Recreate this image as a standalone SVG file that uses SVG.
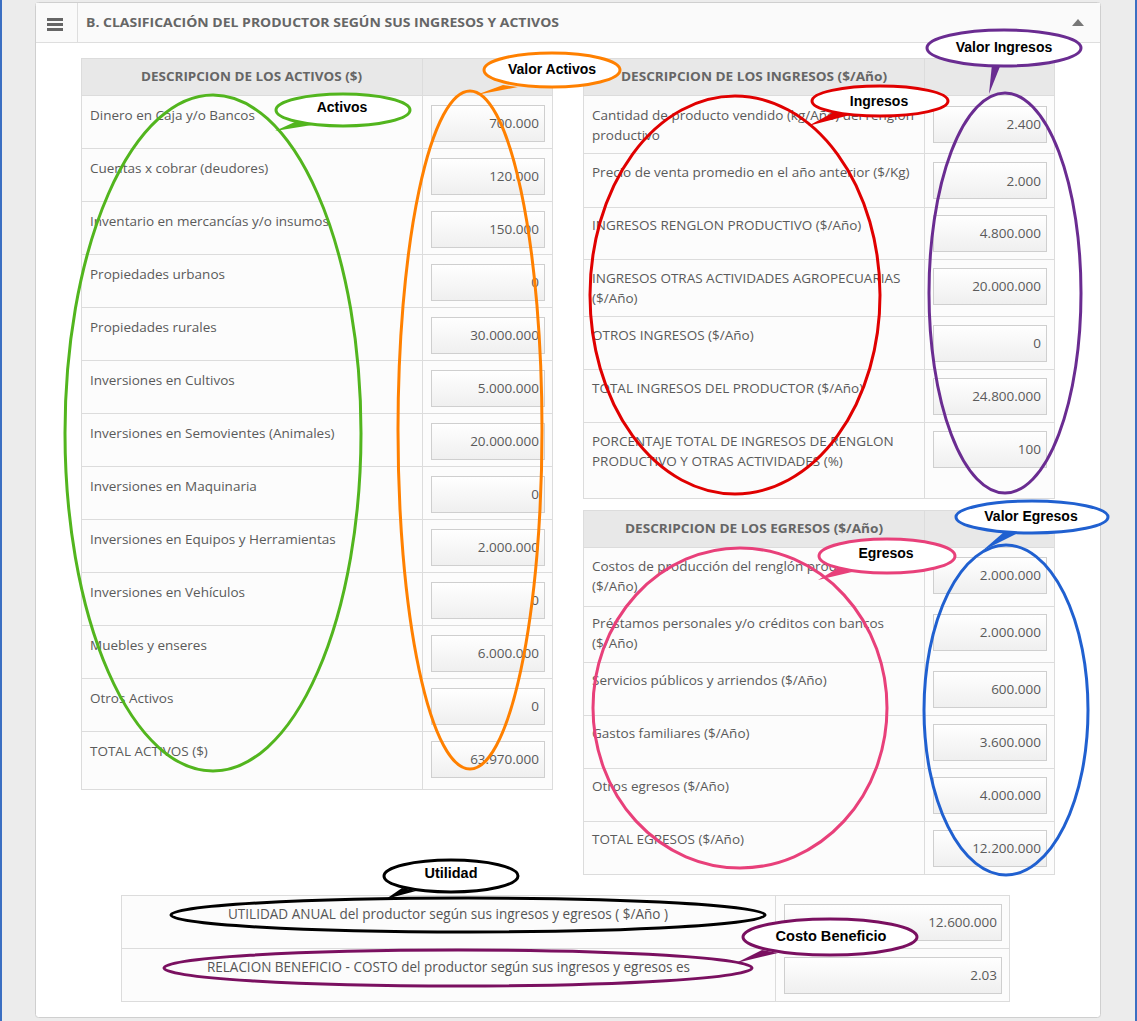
<svg xmlns="http://www.w3.org/2000/svg" width="1137" height="1021" viewBox="0 0 1137 1021">
<defs>
<linearGradient id="inp" x1="0" y1="0" x2="0" y2="1">
<stop offset="0" stop-color="#ffffff"/>
<stop offset="1" stop-color="#efefef"/>
</linearGradient>
<style>
.lbl{font-family:"Open Sans","DejaVu Sans",sans-serif;font-size:13.5px;fill:#5a5a5a}
.val{font-family:"Open Sans","DejaVu Sans",sans-serif;font-size:13.5px;fill:#5a5a5a;text-anchor:end}
.hdr{font-family:"Open Sans","DejaVu Sans",sans-serif;font-size:13px;font-weight:bold;fill:#666}
.cell{fill:#fcfcfc;stroke:#dcdcdc;stroke-width:1}
.head{fill:#e8e8e8;stroke:#dcdcdc;stroke-width:1}
.inp{fill:url(#inp);stroke:#cfcfcf;stroke-width:1}
.big{fill:none;stroke-width:3}
.bub{fill:#fff;stroke-width:3}
.bt{font-family:"Liberation Sans",Arial,sans-serif;font-size:14px;font-weight:bold;fill:#000;text-anchor:middle}
.cond{font-family:"Open Sans","DejaVu Sans",sans-serif;font-size:14px;fill:#555}
</style>
</defs>
<rect x="0" y="0" width="1137" height="1021" fill="#ececec"/>
<rect x="0" y="0" width="2" height="1021" fill="#3b6fc2"/>
<rect x="1135" y="0" width="2" height="1021" fill="#3b6fc2"/>
<g id="panel">
<rect x="35.5" y="2.5" width="1065" height="1015" rx="3" fill="#fff" stroke="#cfcfcf"/>
<rect x="36" y="3" width="1064" height="39" fill="#fafafa"/>
<line x1="36" y1="42.5" x2="1100" y2="42.5" stroke="#dedede"/>
<line x1="77.5" y1="3" x2="77.5" y2="42" stroke="#dedede"/>
<rect x="47" y="18" width="16" height="3" fill="#666"/>
<rect x="47" y="23" width="16" height="3" fill="#666"/>
<rect x="47" y="28" width="16" height="3" fill="#666"/>
<text x="86" y="27" class="hdr" font-size="14" textLength="473" lengthAdjust="spacingAndGlyphs">B. CLASIFICACIÓN DEL PRODUCTOR SEGÚN SUS INGRESOS Y ACTIVOS</text>
<path d="M1072 26 L1084 26 L1078 19 Z" fill="#777"/>
</g>
<g id="tabla-activos">
<rect x="81.5" y="58.5" width="341" height="37" class="head"/>
<rect x="422.5" y="58.5" width="130" height="37" class="head"/>
<text x="141" y="81" class="hdr" textLength="221" lengthAdjust="spacingAndGlyphs">DESCRIPCION DE LOS ACTIVOS ($)</text>
<g>
<rect x="81.5" y="95.5" width="341" height="53" class="cell"/><rect x="422.5" y="95.5" width="130" height="53" class="cell"/>
<rect x="81.5" y="148.5" width="341" height="53" class="cell"/><rect x="422.5" y="148.5" width="130" height="53" class="cell"/>
<rect x="81.5" y="201.5" width="341" height="53" class="cell"/><rect x="422.5" y="201.5" width="130" height="53" class="cell"/>
<rect x="81.5" y="254.5" width="341" height="53" class="cell"/><rect x="422.5" y="254.5" width="130" height="53" class="cell"/>
<rect x="81.5" y="307.5" width="341" height="53" class="cell"/><rect x="422.5" y="307.5" width="130" height="53" class="cell"/>
<rect x="81.5" y="360.5" width="341" height="53" class="cell"/><rect x="422.5" y="360.5" width="130" height="53" class="cell"/>
<rect x="81.5" y="413.5" width="341" height="53" class="cell"/><rect x="422.5" y="413.5" width="130" height="53" class="cell"/>
<rect x="81.5" y="466.5" width="341" height="53" class="cell"/><rect x="422.5" y="466.5" width="130" height="53" class="cell"/>
<rect x="81.5" y="519.5" width="341" height="53" class="cell"/><rect x="422.5" y="519.5" width="130" height="53" class="cell"/>
<rect x="81.5" y="572.5" width="341" height="53" class="cell"/><rect x="422.5" y="572.5" width="130" height="53" class="cell"/>
<rect x="81.5" y="625.5" width="341" height="53" class="cell"/><rect x="422.5" y="625.5" width="130" height="53" class="cell"/>
<rect x="81.5" y="678.5" width="341" height="53" class="cell"/><rect x="422.5" y="678.5" width="130" height="53" class="cell"/>
<rect x="81.5" y="731.5" width="341" height="58" class="cell"/><rect x="422.5" y="731.5" width="130" height="58" class="cell"/>
</g>
<g>
<text x="90" y="120" class="lbl">Dinero en Caja y/o Bancos</text>
<text x="90" y="173" class="lbl">Cuentas x cobrar (deudores)</text>
<text x="90" y="226" class="lbl">Inventario en mercancías y/o insumos</text>
<text x="90" y="279" class="lbl">Propiedades urbanos</text>
<text x="90" y="332" class="lbl">Propiedades rurales</text>
<text x="90" y="385" class="lbl">Inversiones en Cultivos</text>
<text x="90" y="438" class="lbl">Inversiones en Semovientes (Animales)</text>
<text x="90" y="491" class="lbl">Inversiones en Maquinaria</text>
<text x="90" y="544" class="lbl">Inversiones en Equipos y Herramientas</text>
<text x="90" y="597" class="lbl">Inversiones en Vehículos</text>
<text x="90" y="650" class="lbl">Muebles y enseres</text>
<text x="90" y="703" class="lbl">Otros Activos</text>
<text x="90" y="756" class="lbl">TOTAL ACTIVOS ($)</text>
</g>
<g>
<rect x="431.5" y="105.5" width="113" height="36" class="inp"/><text x="539" y="128" class="val">700.000</text>
<rect x="431.5" y="158.5" width="113" height="36" class="inp"/><text x="539" y="181" class="val">120.000</text>
<rect x="431.5" y="211.5" width="113" height="36" class="inp"/><text x="539" y="234" class="val">150.000</text>
<rect x="431.5" y="264.5" width="113" height="36" class="inp"/><text x="539" y="287" class="val">0</text>
<rect x="431.5" y="317.5" width="113" height="36" class="inp"/><text x="539" y="340" class="val">30.000.000</text>
<rect x="431.5" y="370.5" width="113" height="36" class="inp"/><text x="539" y="393" class="val">5.000.000</text>
<rect x="431.5" y="423.5" width="113" height="36" class="inp"/><text x="539" y="446" class="val">20.000.000</text>
<rect x="431.5" y="476.5" width="113" height="36" class="inp"/><text x="539" y="499" class="val">0</text>
<rect x="431.5" y="529.5" width="113" height="36" class="inp"/><text x="539" y="552" class="val">2.000.000</text>
<rect x="431.5" y="582.5" width="113" height="36" class="inp"/><text x="539" y="605" class="val">0</text>
<rect x="431.5" y="635.5" width="113" height="36" class="inp"/><text x="539" y="658" class="val">6.000.000</text>
<rect x="431.5" y="688.5" width="113" height="36" class="inp"/><text x="539" y="711" class="val">0</text>
<rect x="431.5" y="741.5" width="113" height="36" class="inp"/><text x="539" y="764" class="val">63.970.000</text>
</g>
</g>
<g id="tabla-ingresos">
<rect x="583.5" y="58.5" width="341" height="37" class="head"/>
<rect x="924.5" y="58.5" width="130" height="37" class="head"/>
<text x="621" y="81" class="hdr" textLength="266" lengthAdjust="spacingAndGlyphs">DESCRIPCION DE LOS INGRESOS ($/Año)</text>
<rect x="583.5" y="95.5" width="341" height="58" class="cell"/><rect x="924.5" y="95.5" width="130" height="58" class="cell"/>
<rect x="583.5" y="153.5" width="341" height="54" class="cell"/><rect x="924.5" y="153.5" width="130" height="54" class="cell"/>
<rect x="583.5" y="207.5" width="341" height="52" class="cell"/><rect x="924.5" y="207.5" width="130" height="52" class="cell"/>
<rect x="583.5" y="259.5" width="341" height="57" class="cell"/><rect x="924.5" y="259.5" width="130" height="57" class="cell"/>
<rect x="583.5" y="316.5" width="341" height="53" class="cell"/><rect x="924.5" y="316.5" width="130" height="53" class="cell"/>
<rect x="583.5" y="369.5" width="341" height="53" class="cell"/><rect x="924.5" y="369.5" width="130" height="53" class="cell"/>
<rect x="583.5" y="422.5" width="341" height="76" class="cell"/><rect x="924.5" y="422.5" width="130" height="76" class="cell"/>
<text x="592" y="120" class="lbl">Cantidad de producto vendido (kg/Año) del renglón</text>
<text x="592" y="140" class="lbl">productivo</text>
<text x="592" y="177" class="lbl">Precio de venta promedio en el año anterior ($/Kg)</text>
<text x="592" y="230" class="lbl">INGRESOS RENGLON PRODUCTIVO ($/Año)</text>
<text x="592" y="283" class="lbl">INGRESOS OTRAS ACTIVIDADES AGROPECUARIAS</text>
<text x="592" y="303" class="lbl">($/Año)</text>
<text x="592" y="340" class="lbl">OTROS INGRESOS ($/Año)</text>
<text x="592" y="393" class="lbl">TOTAL INGRESOS DEL PRODUCTOR ($/Año)</text>
<text x="592" y="446" class="lbl">PORCENTAJE TOTAL DE INGRESOS DE RENGLON</text>
<text x="592" y="466" class="lbl">PRODUCTIVO Y OTRAS ACTIVIDADES (%)</text>
<rect x="933.5" y="106.5" width="113" height="36" class="inp"/><text x="1041" y="129" class="val">2.400</text>
<rect x="933.5" y="162.5" width="113" height="36" class="inp"/><text x="1041" y="186" class="val">2.000</text>
<rect x="933.5" y="215.5" width="113" height="36" class="inp"/><text x="1041" y="238" class="val">4.800.000</text>
<rect x="933.5" y="268.5" width="113" height="36" class="inp"/><text x="1041" y="291" class="val">20.000.000</text>
<rect x="933.5" y="325.5" width="113" height="36" class="inp"/><text x="1041" y="348" class="val">0</text>
<rect x="933.5" y="378.5" width="113" height="36" class="inp"/><text x="1041" y="401" class="val">24.800.000</text>
<rect x="933.5" y="431.5" width="113" height="36" class="inp"/><text x="1041" y="454" class="val">100</text>
</g>
<g id="tabla-egresos">
<rect x="583.5" y="510.5" width="341" height="37" class="head"/>
<rect x="924.5" y="510.5" width="130" height="37" class="head"/>
<text x="625" y="533" class="hdr" textLength="258" lengthAdjust="spacingAndGlyphs">DESCRIPCION DE LOS EGRESOS ($/Año)</text>
<rect x="583.5" y="547.5" width="341" height="59" class="cell"/><rect x="924.5" y="547.5" width="130" height="59" class="cell"/>
<rect x="583.5" y="606.5" width="341" height="56" class="cell"/><rect x="924.5" y="606.5" width="130" height="56" class="cell"/>
<rect x="583.5" y="662.5" width="341" height="53" class="cell"/><rect x="924.5" y="662.5" width="130" height="53" class="cell"/>
<rect x="583.5" y="715.5" width="341" height="53" class="cell"/><rect x="924.5" y="715.5" width="130" height="53" class="cell"/>
<rect x="583.5" y="768.5" width="341" height="53" class="cell"/><rect x="924.5" y="768.5" width="130" height="53" class="cell"/>
<rect x="583.5" y="821.5" width="341" height="53" class="cell"/><rect x="924.5" y="821.5" width="130" height="53" class="cell"/>
<text x="592" y="571" class="lbl">Costos de producción del renglón productivo</text>
<text x="592" y="591" class="lbl">($/Año)</text>
<text x="592" y="628" class="lbl">Préstamos personales y/o créditos con bancos</text>
<text x="592" y="648" class="lbl">($/Año)</text>
<text x="592" y="685" class="lbl">Servicios públicos y arriendos ($/Año)</text>
<text x="592" y="738" class="lbl">Gastos familiares ($/Año)</text>
<text x="592" y="791" class="lbl">Otros egresos ($/Año)</text>
<text x="592" y="844" class="lbl">TOTAL EGRESOS ($/Año)</text>
<rect x="933.5" y="557.5" width="113" height="36" class="inp"/><text x="1041" y="580" class="val">2.000.000</text>
<rect x="933.5" y="614.5" width="113" height="36" class="inp"/><text x="1041" y="637" class="val">2.000.000</text>
<rect x="933.5" y="671.5" width="113" height="36" class="inp"/><text x="1041" y="694" class="val">600.000</text>
<rect x="933.5" y="724.5" width="113" height="36" class="inp"/><text x="1041" y="747" class="val">3.600.000</text>
<rect x="933.5" y="777.5" width="113" height="36" class="inp"/><text x="1041" y="800" class="val">4.000.000</text>
<rect x="933.5" y="830.5" width="113" height="36" class="inp"/><text x="1041" y="853" class="val">12.200.000</text>
</g>
<g id="tabla-utilidad">
<rect x="121.5" y="895.5" width="654" height="53" class="cell"/><rect x="775.5" y="895.5" width="234" height="53" class="cell"/>
<rect x="121.5" y="948.5" width="654" height="53" class="cell"/><rect x="775.5" y="948.5" width="234" height="53" class="cell"/>
<text x="228" y="919" class="cond" textLength="440" lengthAdjust="spacingAndGlyphs">UTILIDAD ANUAL del productor según sus ingresos y egresos ( $/Año )</text>
<text x="207" y="972" class="cond" textLength="483" lengthAdjust="spacingAndGlyphs">RELACION BENEFICIO - COSTO del productor según sus ingresos y egresos es</text>
<rect x="784.5" y="904.5" width="217" height="36" class="inp"/><text x="997" y="927" class="val">12.600.000</text>
<rect x="784.5" y="957.5" width="217" height="36" class="inp"/><text x="997" y="980" class="val">2.03</text>
</g>
<g id="connectors">
<path d="M297 121 L275 131 L312 125 Z" fill="#52b51e"/>
<path d="M503 85 L476 95 L518 87 Z" fill="#ff8000"/>
<path d="M836 111 L808 126 L850 115 Z" fill="#e00000"/>
<path d="M992 64 L989 94 L1001 64 Z" fill="#6a2c91"/>
<path d="M838 568 L818 580 L852 572 Z" fill="#e8407a"/>
<path d="M1004 532 L982 551 L1016 534 Z" fill="#2060d0"/>
<path d="M402 888 L386 899 L416 891 Z" fill="#000"/>
<path d="M762 950 L736 963 L778 953 Z" fill="#7a1060"/>
</g>
<g id="activos-ellipse"><ellipse cx="213" cy="433" rx="148" ry="338" class="big" stroke="#52b51e"/></g>
<g id="valor-activos-ellipse"><ellipse cx="470" cy="430" rx="72" ry="339" class="big" stroke="#ff8000"/></g>
<g id="ingresos-ellipse"><ellipse cx="735" cy="295" rx="145" ry="199" class="big" stroke="#e00000"/></g>
<g id="valor-ingresos-ellipse"><ellipse cx="1005" cy="293" rx="76" ry="200" class="big" stroke="#6a2c91"/></g>
<g id="egresos-ellipse"><ellipse cx="740" cy="708" rx="147" ry="160" class="big" stroke="#e8407a"/></g>
<g id="valor-egresos-ellipse"><ellipse cx="1006" cy="710" rx="82" ry="165" class="big" stroke="#2060d0"/></g>
<g id="utilidad-ellipse"><ellipse cx="468" cy="915" rx="297" ry="17" class="big" stroke="#000"/></g>
<g id="relacion-ellipse"><ellipse cx="458" cy="968" rx="294" ry="18" class="big" stroke="#7a1060"/></g>
<g id="bubble-activos"><ellipse cx="343" cy="110" rx="67" ry="16" class="bub" stroke="#52b51e"/><text x="342" y="112" class="bt">Activos</text></g>
<g id="bubble-valor-activos"><ellipse cx="552" cy="70" rx="68" ry="17" class="bub" stroke="#ff8000"/><text x="552" y="74" class="bt">Valor Activos</text></g>
<g id="bubble-ingresos"><ellipse cx="880" cy="101" rx="68" ry="15" class="bub" stroke="#e00000"/><text x="879" y="106" class="bt">Ingresos</text></g>
<g id="bubble-valor-ingresos"><ellipse cx="1004" cy="48" rx="77" ry="18" class="bub" stroke="#6a2c91"/><text x="1004" y="52" class="bt">Valor Ingresos</text></g>
<g id="bubble-egresos"><ellipse cx="887" cy="556" rx="68" ry="17" class="bub" stroke="#e8407a"/><text x="886" y="558" class="bt">Egresos</text></g>
<g id="bubble-valor-egresos"><ellipse cx="1032" cy="517" rx="76" ry="16" class="bub" stroke="#2060d0"/><text x="1031" y="521" class="bt">Valor Egresos</text></g>
<g id="bubble-utilidad"><ellipse cx="451" cy="876" rx="67" ry="16" class="bub" stroke="#000"/><text x="451" y="878" class="bt" textLength="53" lengthAdjust="spacingAndGlyphs">Utilidad</text></g>
<g id="bubble-costo-beneficio"><ellipse cx="830" cy="937" rx="87" ry="18" class="bub" stroke="#7a1060"/><text x="831" y="941" class="bt" textLength="111" lengthAdjust="spacingAndGlyphs">Costo Beneficio</text></g>
</svg>
